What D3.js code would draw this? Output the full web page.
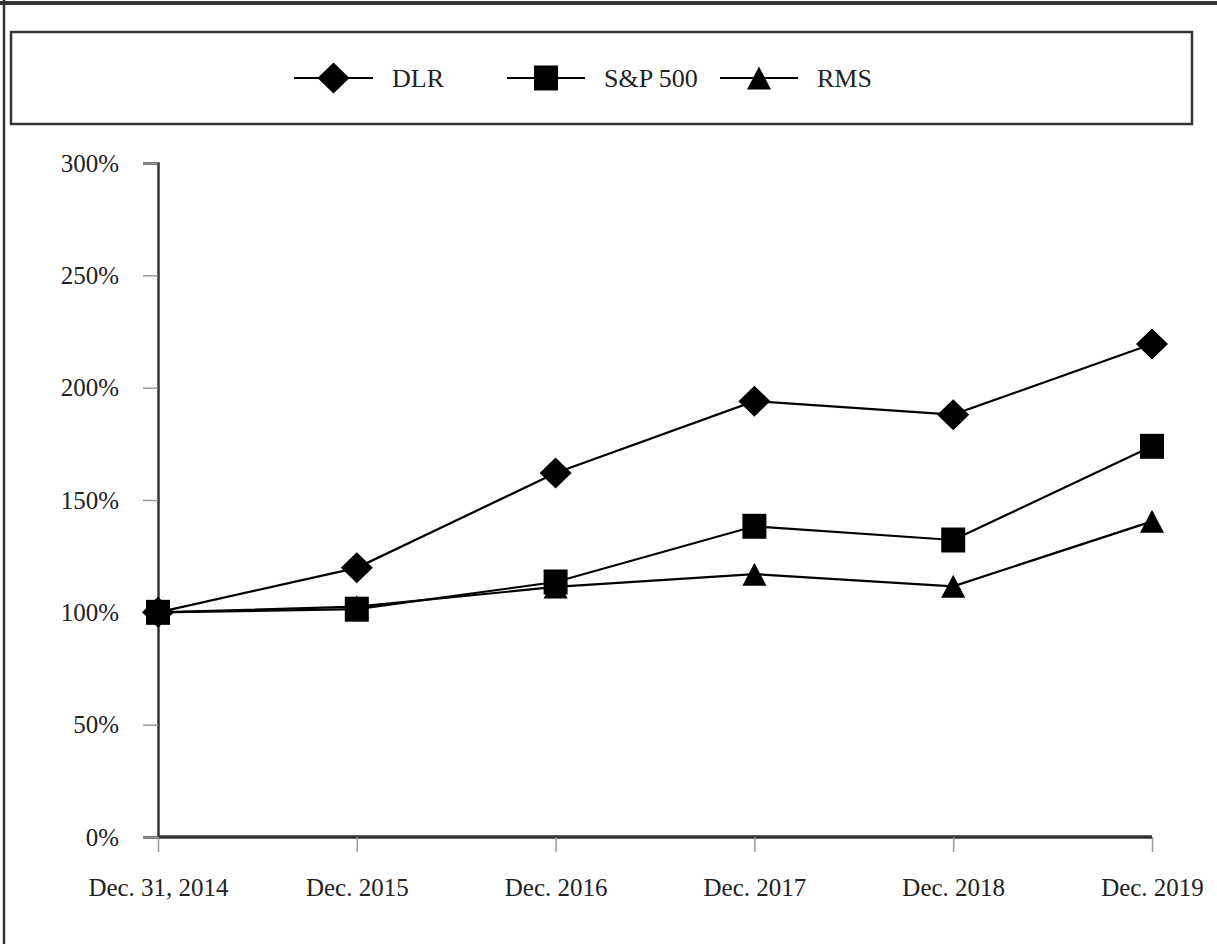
<!DOCTYPE html>
<html>
<head>
<meta charset="utf-8">
<script src="https://cdn.jsdelivr.net/npm/d3@7"></script>
<style>
  html, body { margin: 0; padding: 0; background: #fff; }
  svg { display: block; }
  text { font-family: "Liberation Serif", "Times New Roman", serif; fill: #222; }
</style>
</head>
<body>
<svg id="chart" width="1217" height="944"></svg>
<script>
// ---- data ----
const categories = ["Dec. 31, 2014", "Dec. 2015", "Dec. 2016", "Dec. 2017", "Dec. 2018", "Dec. 2019"];
const dlr   = [100, 119.8, 162.0, 194.0, 188.0, 219.4];
const sp500 = [100, 101.4, 113.5, 138.3, 132.2, 173.9];
const rms   = [100, 102.5, 111.3, 117.0, 111.6, 140.5];
const seriesNames = ["DLR", "S&P 500", "RMS"];
const yTicks = [0, 50, 100, 150, 200, 250, 300];

const series = [
  { name: seriesNames[0], values: dlr,   shape: "diamond" },
  { name: seriesNames[1], values: sp500, shape: "square" },
  { name: seriesNames[2], values: rms,   shape: "triangle" }
];

const svg = d3.select("#chart");

// outer frame (cropped at right / bottom)
svg.append("line").attr("x1", 0).attr("x2", 1217).attr("y1", 3).attr("y2", 3)
  .attr("stroke", "#333").attr("stroke-width", 4);
svg.append("line").attr("x1", 4).attr("x2", 4).attr("y1", 0).attr("y2", 944)
  .attr("stroke", "#333").attr("stroke-width", 2.5);

// legend box
svg.append("rect").attr("x", 11).attr("y", 32).attr("width", 1181).attr("height", 92)
  .attr("fill", "none").attr("stroke", "#333").attr("stroke-width", 2.5);

function markerPath(shape, s) {
  if (shape === "diamond") {
    const w = 16 * s, h = 15.5 * s;
    return `M0,${-h}L${w},0L0,${h}L${-w},0Z`;
  }
  if (shape === "square") {
    const w = 12 * s, h = 12.5 * s;
    return `M${-w},${-h}L${w},${-h}L${w},${h}L${-w},${h}Z`;
  }
  const w = 12 * s, h = 11.5 * s;
  return `M0,${-h}L${w},${h}L${-w},${h}Z`;
}

// legend items
const legendItems = [
  { x1: 294, x2: 373, text: 392 },
  { x1: 507, x2: 585, text: 604 },
  { x1: 720, x2: 798, text: 817 }
];
const ly = 78;
series.forEach((s, i) => {
  const it = legendItems[i];
  const g = svg.append("g");
  g.append("line").attr("x1", it.x1).attr("x2", it.x2).attr("y1", ly).attr("y2", ly)
    .attr("stroke", "#000").attr("stroke-width", 2);
  g.append("path").attr("d", markerPath(s.shape, 1))
    .attr("transform", `translate(${(it.x1 + it.x2) / 2},${ly})`).attr("fill", "#000");
  g.append("text").attr("x", it.text).attr("y", 87).attr("font-size", 26).text(s.name);
});

// scales
const x = d3.scalePoint().domain(categories).range([158, 1152]);
const y = d3.scaleLinear().domain([0, 300]).range([837, 163]);

// y axis
const yAxis = d3.axisLeft(y).tickValues(yTicks).tickFormat(d => d + "%").tickSize(15).tickPadding(24);
const gy = svg.append("g").attr("transform", "translate(158,0)").call(yAxis);
gy.select(".domain").attr("stroke", "#333").attr("stroke-width", 2.5);
gy.selectAll(".tick line").attr("stroke", "#999").attr("stroke-width", 1.5);
gy.selectAll(".tick text").attr("font-size", 25).attr("fill", "#222")
  .attr("font-family", "Liberation Serif, Times New Roman, serif");

// x axis
const xAxis = d3.axisBottom(x).tickSize(15).tickPadding(26);
const gx = svg.append("g").attr("transform", "translate(0,837)").call(xAxis);
gx.select(".domain").attr("stroke", "#333").attr("stroke-width", 3.5)
  .attr("d", "M158,0H1152");
gx.selectAll(".tick line").attr("stroke", "#999").attr("stroke-width", 1.5);
gx.selectAll(".tick text").attr("font-size", 25).attr("fill", "#222")
  .attr("font-family", "Liberation Serif, Times New Roman, serif");

// lines
const line = d3.line().x((d, i) => x(categories[i])).y(d => y(d));
series.forEach(s => {
  svg.append("path").datum(s.values).attr("d", line)
    .attr("fill", "none").attr("stroke", "#000").attr("stroke-width", 2.2);
});
// markers
series.slice().reverse().forEach(s => {
  svg.append("g").selectAll("path").data(s.values).join("path")
    .attr("d", markerPath(s.shape, 1))
    .attr("transform", (d, i) => `translate(${x(categories[i])},${y(d)})`)
    .attr("fill", "#000");
});
</script>
</body>
</html>
